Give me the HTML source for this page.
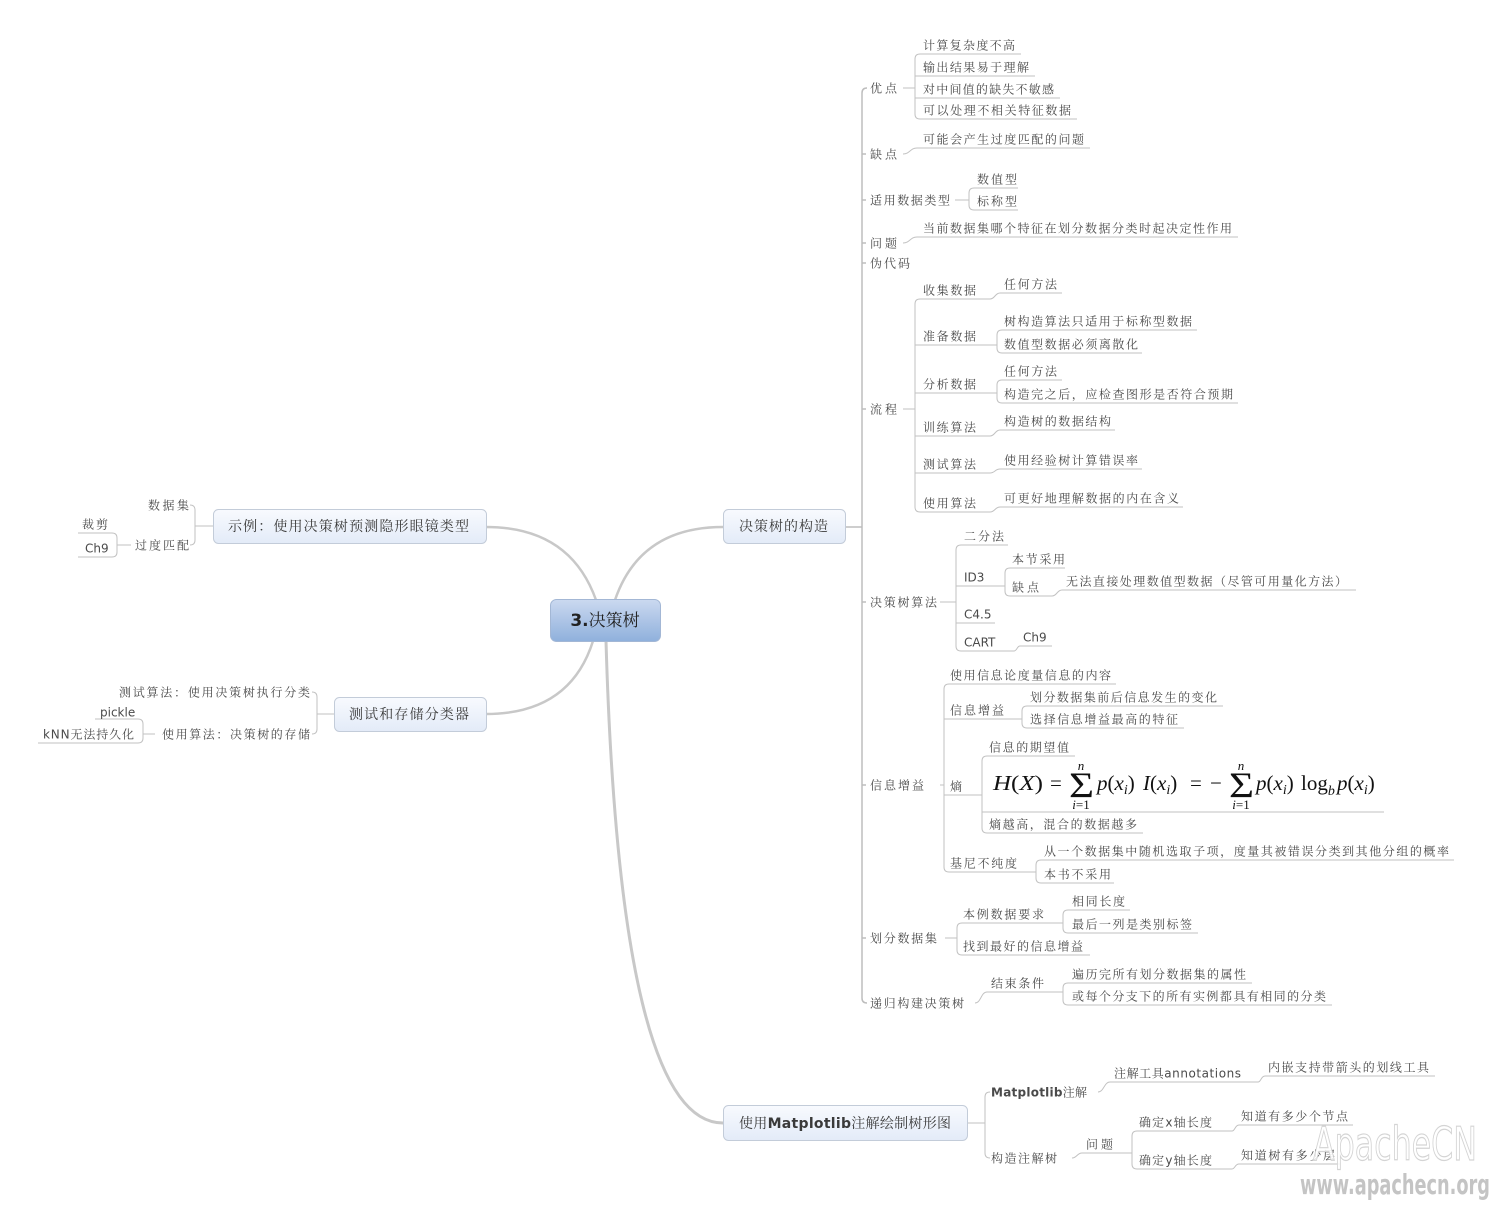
<!DOCTYPE html>
<html><head><meta charset="utf-8"><style>
html,body{margin:0;padding:0;background:#fff;}
svg{display:block;}
.t{font-family:"DejaVu Sans","Noto Serif CJK SC",serif;font-size:12px;fill:#4a4a4a;}
.b{font-family:"DejaVu Sans","Noto Serif CJK SC",serif;font-size:14px;fill:#3a3a3a;}
.f{font-family:"Liberation Serif",serif;fill:#111;}
</style></head><body>
<svg width="1493" height="1214" viewBox="0 0 1493 1214" xmlns="http://www.w3.org/2000/svg">
<defs>
<linearGradient id="gc" x1="0" y1="0" x2="0" y2="1"><stop offset="0" stop-color="#cbd9f0"/><stop offset="1" stop-color="#8fb0dc"/></linearGradient>
<linearGradient id="gs" x1="0" y1="0" x2="0" y2="1"><stop offset="0" stop-color="#f8fafe"/><stop offset="1" stop-color="#e3ebf8"/></linearGradient>
</defs>

<!-- main curves -->
<g fill="none" stroke="#c8c8c8" stroke-width="2.5">
<path d="M615,600 Q640,527 723,527"/>
<path d="M596,600 Q570,527 486,527"/>
<path d="M593,641 Q570,714 486,714"/>
<path d="M606,641 Q620,1123 723,1123" stroke-width="3"/>
</g>

<!-- L2 bracket -->
<g fill="none" stroke="#bdbdbd" stroke-width="1.5">
<path d="M845,527 H862"/>
<path d="M867,88 Q862,88 862,93 V998 Q862,1003 867,1003"/>
<path d="M862,154 H866 M862,200 H866 M862,243 H866 M862,263 H866 M862,409 H866 M862,602 H866 M862,785 H866 M862,938 H866"/>
</g>

<!-- connectors & underlines -->
<g fill="none" stroke="#c2c2c2" stroke-width="1">
<!-- 优点 -->
<path d="M903,88 H915 M920,54 Q915,54 915,59 V114 Q915,119 920,119 M915,76 H920 M915,98 H920"/>
<path d="M920,54 H1021 M920,76 H1035 M920,98 H1060 M920,119 H1077"/>
<!-- 缺点 -->
<path d="M903,154 C910,154 910,148 917,148 H1090"/>
<!-- 适用数据类型 -->
<path d="M955,200 H969 M974,188 Q969,188 969,193 V205 Q969,210 974,210 M974,188 H1018 M974,210 H1018"/>
<!-- 问题 -->
<path d="M903,243 C910,243 910,237 917,237 H1238"/>
<!-- 流程 -->
<path d="M903,409 H915 M920,299 Q915,299 915,304 V507 Q915,512 920,512 M915,345 H920 M915,393 H920 M915,436 H920 M915,473 H920"/>
<path d="M920,299 H990 M920,345 H990 M920,393 H990 M920,436 H990 M920,473 H990 M920,512 H990"/>
<path d="M990,299 C995,299 995,293 1000,293 H1062"/>
<path d="M990,345 H997 M1002,330 Q997,330 997,335 V348 Q997,353 1002,353 M1002,330 H1197 M1002,353 H1142"/>
<path d="M990,393 H997 M1002,380 Q997,380 997,385 V398 Q997,403 1002,403 M1002,380 H1062 M1002,403 H1238"/>
<path d="M990,436 C995,436 995,430 1000,430 H1115"/>
<path d="M990,473 C995,473 995,469 1000,469 H1142"/>
<path d="M990,512 C995,512 995,507 1000,507 H1183"/>
<!-- 决策树算法 -->
<path d="M940,602 H956 M961,545 Q956,545 956,550 V646 Q956,651 961,651 M956,586 H961 M956,623 H961"/>
<path d="M961,545 H1008 M961,586 H998 M961,623 H995 M961,651 H1014"/>
<path d="M998,586 H1005 M1010,568 Q1005,568 1005,573 V591 Q1005,596 1010,596 M1010,568 H1065 M1010,596 H1052"/>
<path d="M1052,596 C1057,596 1057,590 1062,590 H1356"/>
<path d="M1014,651 C1017,651 1017,646 1020,646 H1052"/>
<!-- 信息增益 -->
<path d="M940,785 H944 M949,684 Q944,684 944,689 V867 Q944,872 949,872 M944,719 H949 M944,795 H949"/>
<path d="M949,684 H1116 M949,719 H1018 M949,795 H976 M949,872 H1030"/>
<path d="M1018,719 H1022 M1027,706 Q1022,706 1022,711 V723 Q1022,728 1027,728 M1027,706 H1223 M1027,728 H1184"/>
<path d="M976,795 H982 M987,756 Q982,756 982,761 V828 Q982,833 987,833 M982,812 H1384 M987,756 H1075 M987,833 H1143"/>
<path d="M1030,872 H1036 M1041,860 Q1036,860 1036,865 V878 Q1036,883 1041,883 M1041,860 H1454 M1041,883 H1114"/>
<!-- 划分数据集 -->
<path d="M945,938 H957 M962,923 Q957,923 957,928 V950 Q957,955 962,955 M962,923 H1058 M962,955 H1090"/>
<path d="M1058,923 H1063 M1068,910 Q1063,910 1063,915 V928 Q1063,933 1068,933 M1068,910 H1130 M1068,933 H1198"/>
<!-- 递归构建决策树 -->
<path d="M975,1003 C981,1003 981,992 987,992 H1058 M1058,992 H1063 M1068,983 Q1063,983 1063,988 V1000 Q1063,1005 1068,1005 M1068,983 H1252 M1068,1005 H1332"/>
<!-- Matplotlib -->
<path d="M967,1123 H985 M990,1092 Q985,1092 985,1097 V1153 Q985,1158 990,1158"/>
<path d="M1098,1092 C1104,1092 1104,1082 1110,1082 H1258 M1258,1082 C1261,1082 1261,1076 1265,1076 H1435"/>
<path d="M1072,1158 C1077,1158 1077,1153 1082,1153 H1127 M1127,1153 H1132 M1137,1131 Q1132,1131 1132,1136 V1164 Q1132,1169 1137,1169 M1137,1131 H1232 M1137,1169 H1232"/>
<path d="M1232,1131 C1235,1131 1235,1125 1239,1125 H1353 M1232,1169 C1235,1169 1235,1164 1239,1164 H1340"/>
<!-- left -->
<path d="M213,526 H195 M190,505 Q195,505 195,510 V540 Q195,545 190,545"/>
<path d="M131,545 H117 M112,533 Q117,533 117,538 V552 Q117,557 112,557 M112,533 H78 M112,557 H78"/>
<path d="M334,714 H317 M312,692 Q317,692 317,697 V729 Q317,734 312,734"/>
<path d="M155,734 H143 M138,719 Q143,719 143,724 V738 Q143,743 138,743 M138,719 H95 M138,743 H38"/>
</g>

<!-- boxes -->
<rect x="550.5" y="599.5" width="110" height="42" rx="6" fill="url(#gc)" stroke="#a3b7d5"/>
<text x="605" y="626" text-anchor="middle" style="font-family:'DejaVu Sans','Noto Serif CJK SC',serif;font-size:17px;fill:#222;"><tspan font-weight="bold">3.</tspan>决策树</text>

<rect x="723.5" y="509.5" width="122" height="34" rx="5" fill="url(#gs)" stroke="#c3ccd9"/>
<text class="b" x="739" y="531" textLength="89" lengthAdjust="spacing">决策树的构造</text>

<rect x="213.5" y="509.5" width="273" height="34" rx="5" fill="url(#gs)" stroke="#c3ccd9"/>
<text class="b" x="228" y="531" textLength="241" lengthAdjust="spacing">示例：使用决策树预测隐形眼镜类型</text>

<rect x="334.5" y="697.5" width="152" height="34" rx="5" fill="url(#gs)" stroke="#c3ccd9"/>
<text class="b" x="349" y="719" textLength="120" lengthAdjust="spacing">测试和存储分类器</text>

<rect x="723.5" y="1105.5" width="244" height="35" rx="5" fill="url(#gs)" stroke="#c3ccd9"/>
<text class="b" x="739" y="1128" textLength="212" lengthAdjust="spacing">使用<tspan font-weight="bold">Matplotlib</tspan>注解绘制树形图</text>

<!-- L2 right -->
<g class="t">
<text class="t" x="870" y="92.5" textLength="27">优点</text>
<text class="t" x="870" y="158.5" textLength="27">缺点</text>
<text class="t" x="870" y="204.5" textLength="80">适用数据类型</text>
<text class="t" x="870" y="247.5" textLength="27">问题</text>
<text class="t" x="870" y="267.5" textLength="40">伪代码</text>
<text class="t" x="870" y="413.5" textLength="27">流程</text>
<text class="t" x="870" y="606.5" textLength="67">决策树算法</text>
<text class="t" x="870" y="789.5" textLength="54">信息增益</text>
<text class="t" x="870" y="942.5" textLength="67">划分数据集</text>
<text class="t" x="870" y="1007.5" textLength="94">递归构建决策树</text>

<text class="t" x="923" y="49.5" textLength="92">计算复杂度不高</text>
<text class="t" x="923" y="71.5" textLength="106">输出结果易于理解</text>
<text class="t" x="923" y="93.5" textLength="131">对中间值的缺失不敏感</text>
<text class="t" x="923" y="114.5" textLength="148">可以处理不相关特征数据</text>
<text class="t" x="923" y="143.5" textLength="161">可能会产生过度匹配的问题</text>
<text class="t" x="977" y="183.5" textLength="40">数值型</text>
<text class="t" x="977" y="205.5" textLength="40">标称型</text>
<text class="t" x="923" y="232.5" textLength="309">当前数据集哪个特征在划分数据分类时起决定性作用</text>

<text class="t" x="923" y="294.5" textLength="53">收集数据</text>
<text class="t" x="923" y="340.5" textLength="53">准备数据</text>
<text class="t" x="923" y="388.5" textLength="53">分析数据</text>
<text class="t" x="923" y="431.5" textLength="53">训练算法</text>
<text class="t" x="923" y="468.5" textLength="53">测试算法</text>
<text class="t" x="923" y="507.5" textLength="53">使用算法</text>
<text class="t" x="1004" y="288.5" textLength="53">任何方法</text>
<text class="t" x="1004" y="325.5" textLength="188">树构造算法只适用于标称型数据</text>
<text class="t" x="1004" y="348.5" textLength="134">数值型数据必须离散化</text>
<text class="t" x="1004" y="375.5" textLength="53">任何方法</text>
<text class="t" x="1004" y="398.5" textLength="229">构造完之后，应检查图形是否符合预期</text>
<text class="t" x="1004" y="425.5" textLength="107">构造树的数据结构</text>
<text class="t" x="1004" y="464.5" textLength="134">使用经验树计算错误率</text>
<text class="t" x="1004" y="502.5" textLength="175">可更好地理解数据的内在含义</text>

<text class="t" x="964" y="540.5" textLength="40">二分法</text>
<text class="t" x="964" y="581.5">ID3</text>
<text class="t" x="1012" y="563.5" textLength="53">本节采用</text>
<text class="t" x="1012" y="591.5" textLength="27">缺点</text>
<text class="t" x="1066" y="585.5" textLength="281">无法直接处理数值型数据（尽管可用量化方法）</text>
<text class="t" x="964" y="618.5">C4.5</text>
<text class="t" x="964" y="646.5">CART</text>
<text class="t" x="1023" y="641.5">Ch9</text>

<text class="t" x="950" y="679.5" textLength="161">使用信息论度量信息的内容</text>
<text class="t" x="950" y="714.5" textLength="54">信息增益</text>
<text class="t" x="950" y="790.5" textLength="13">熵</text>
<text class="t" x="1030" y="701.5" textLength="187">划分数据集前后信息发生的变化</text>
<text class="t" x="1030" y="723.5" textLength="148">选择信息增益最高的特征</text>
<text class="t" x="989" y="751.5" textLength="80">信息的期望值</text>
<text class="t" x="989" y="828.5" textLength="148">熵越高，混合的数据越多</text>
<text class="t" x="950" y="867.5" textLength="67">基尼不纯度</text>
<text class="t" x="1044" y="855.5" textLength="405">从一个数据集中随机选取子项，度量其被错误分类到其他分组的概率</text>
<text class="t" x="1044" y="878.5" textLength="67">本书不采用</text>

<text class="t" x="963" y="918.5" textLength="81">本例数据要求</text>
<text class="t" x="1072" y="905.5" textLength="53">相同长度</text>
<text class="t" x="1072" y="928.5" textLength="120">最后一列是类别标签</text>
<text class="t" x="963" y="950.5" textLength="120">找到最好的信息增益</text>
<text class="t" x="991" y="987.5" textLength="53">结束条件</text>
<text class="t" x="1072" y="978.5" textLength="174">遍历完所有划分数据集的属性</text>
<text class="t" x="1072" y="1000.5" textLength="254">或每个分支下的所有实例都具有相同的分类</text>

<text class="t" x="991" y="1096.5" textLength="96"><tspan font-weight="bold">Matplotlib</tspan>注解</text>
<text class="t" x="1114" y="1077.5" textLength="127">注解工具annotations</text>
<text class="t" x="1268" y="1071.5" textLength="161">内嵌支持带箭头的划线工具</text>
<text class="t" x="991" y="1162.5" textLength="66">构造注解树</text>
<text class="t" x="1086" y="1148.5" textLength="27">问题</text>
<text class="t" x="1139" y="1126.5" textLength="73">确定x轴长度</text>
<text class="t" x="1139" y="1164.5" textLength="73">确定y轴长度</text>
<text class="t" x="1241" y="1120.5" textLength="107">知道有多少个节点</text>
<text class="t" x="1241" y="1159.5" textLength="94">知道树有多少层</text>

<!-- left side -->
<text class="t" x="189" y="509.5" text-anchor="end" textLength="41">数据集</text>
<text class="t" x="189" y="549.5" text-anchor="end" textLength="54">过度匹配</text>
<text class="t" x="82" y="528.5" textLength="26">裁剪</text>
<text class="t" x="85" y="552.5">Ch9</text>
<text class="t" x="310" y="696.5" text-anchor="end" textLength="191">测试算法：使用决策树执行分类</text>
<text class="t" x="310" y="738.5" text-anchor="end" textLength="148">使用算法：决策树的存储</text>
<text class="t" x="100" y="716.5">pickle</text>
<text class="t" x="43" y="738.5" textLength="91">kNN无法持久化</text>
</g>

<!-- formula -->
<g class="f">
<text x="993" y="790" font-size="21" textLength="50" lengthAdjust="spacingAndGlyphs"><tspan font-style="italic">H</tspan>(<tspan font-style="italic">X</tspan>)</text>
<text x="1050" y="790" font-size="21">=</text>
<text x="1069" y="797" font-size="36" textLength="25" lengthAdjust="spacingAndGlyphs">Σ</text>
<text x="1081" y="770" font-size="13" font-style="italic" text-anchor="middle">n</text>
<text x="1081" y="809" font-size="13" text-anchor="middle"><tspan font-style="italic">i</tspan>=1</text>
<text x="1097" y="790" font-size="21"><tspan font-style="italic">p</tspan>(<tspan font-style="italic">x</tspan><tspan font-size="14" font-style="italic" dy="4">i</tspan><tspan dy="-4">)</tspan></text>
<text x="1143" y="790" font-size="21"><tspan font-style="italic">I</tspan>(<tspan font-style="italic">x</tspan><tspan font-size="14" font-style="italic" dy="4">i</tspan><tspan dy="-4">)</tspan></text>
<text x="1190" y="790" font-size="21">=</text>
<text x="1210" y="790" font-size="21">−</text>
<text x="1229" y="797" font-size="36" textLength="25" lengthAdjust="spacingAndGlyphs">Σ</text>
<text x="1241" y="770" font-size="13" font-style="italic" text-anchor="middle">n</text>
<text x="1241" y="809" font-size="13" text-anchor="middle"><tspan font-style="italic">i</tspan>=1</text>
<text x="1256" y="790" font-size="21"><tspan font-style="italic">p</tspan>(<tspan font-style="italic">x</tspan><tspan font-size="14" font-style="italic" dy="4">i</tspan><tspan dy="-4">)</tspan></text>
<text x="1301" y="790" font-size="21">log<tspan font-size="14" font-style="italic" dy="5">b</tspan></text>
<text x="1337" y="790" font-size="21"><tspan font-style="italic">p</tspan>(<tspan font-style="italic">x</tspan><tspan font-size="14" font-style="italic" dy="4">i</tspan><tspan dy="-4">)</tspan></text>
</g>

<!-- watermark -->
<text x="1313" y="1160" font-family="DejaVu Sans, sans-serif" font-size="46" textLength="164" lengthAdjust="spacingAndGlyphs" fill="#ffffff" fill-opacity="0.85" stroke="#d4d4d4" stroke-width="1.2">ApacheCN</text>
<text x="1300" y="1194" font-family="DejaVu Sans, sans-serif" font-size="28" font-weight="bold" textLength="190" lengthAdjust="spacingAndGlyphs" fill="#c4c4c4">www.apachecn.org</text>
</svg>
</body></html>
